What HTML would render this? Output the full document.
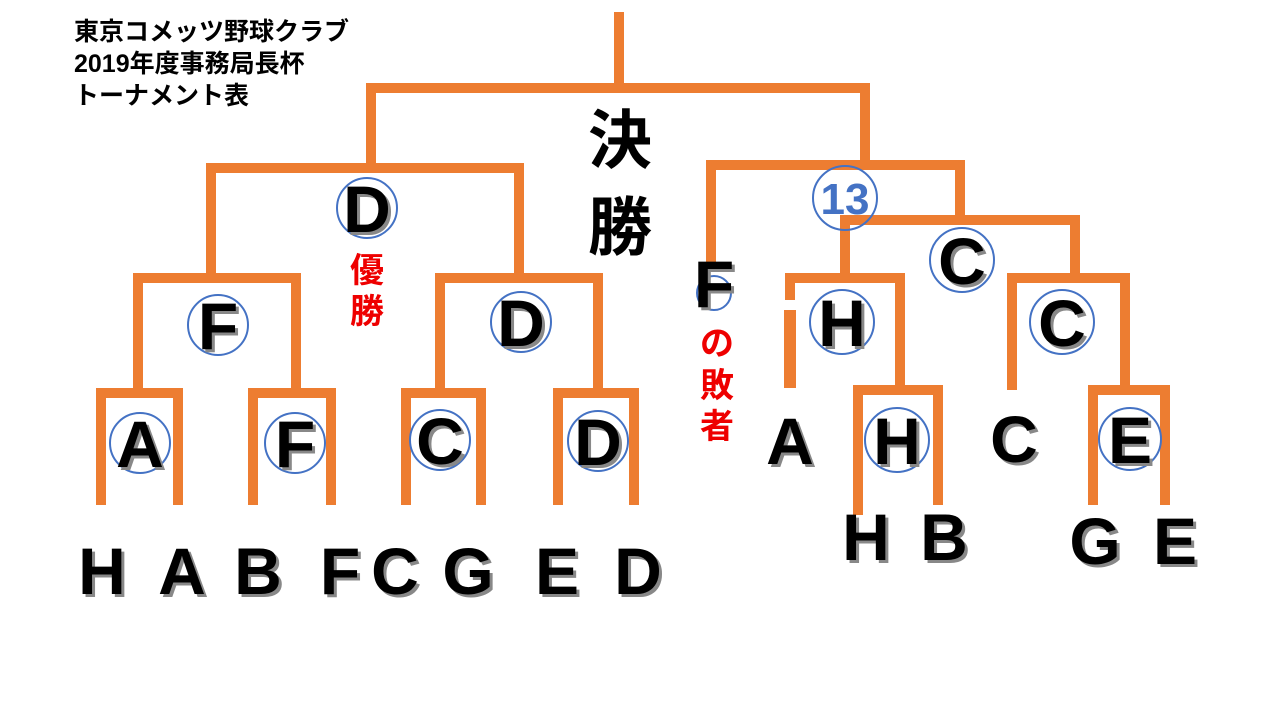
<!DOCTYPE html>
<html><head><meta charset="utf-8"><style>
html,body{margin:0;padding:0;background:#fff;width:1280px;height:720px;overflow:hidden}
svg{display:block}
.t{font-family:"Liberation Sans","Noto Sans CJK JP",sans-serif;font-weight:bold}
</style></head><body>
<svg width="1280" height="720" viewBox="0 0 1280 720" xmlns="http://www.w3.org/2000/svg">
<g fill="none" stroke="#ED7D31" stroke-width="10" stroke-linecap="butt" stroke-linejoin="miter">
<path d="M619 12V88"/>
<path d="M371 165V88H865V165"/>
<path d="M211 275V168H519V275"/>
<path d="M138 390V278H296V390"/>
<path d="M440 390V278H598V390"/>
<path d="M101 505V393H178V505"/>
<path d="M253 505V393H331V505"/>
<path d="M406 505V393H481V505"/>
<path d="M558 505V393H634V505"/>
<path d="M711 262V165H960V220"/>
<path d="M845 278V220H1075V278"/>
<path d="M790 300V278H900V390"/>
<path d="M790 310V388" stroke-width="12"/>
<path d="M858 515V390H938V505"/>
<path d="M1012 390V278H1125V390"/>
<path d="M1093 505V390H1165V505"/>
</g>
<g fill="none" stroke="#4472C4" stroke-width="2">
<circle cx="367" cy="208" r="30"/>
<circle cx="218" cy="325" r="30"/>
<circle cx="521" cy="322" r="30"/>
<circle cx="140" cy="443" r="30"/>
<circle cx="295" cy="443" r="30"/>
<circle cx="440" cy="440" r="30"/>
<circle cx="598" cy="441" r="30"/>
<circle cx="845" cy="198" r="32"/>
<circle cx="962" cy="260" r="32"/>
<circle cx="842" cy="322" r="32"/>
<circle cx="1062" cy="322" r="32"/>
<circle cx="714" cy="293" r="17"/>
<circle cx="897" cy="440" r="32"/>
<circle cx="1130" cy="439" r="31"/>
</g>
<g class="t" fill="#4472C4" text-anchor="middle" font-size="44" font-weight="normal">
<text x="845" y="214">13</text>
</g>
<g class="t" text-anchor="middle" font-size="66">
<g fill="#888" transform="translate(3,3)">
<text x="367" y="232">D</text><text x="218" y="349">F</text><text x="521" y="346">D</text>
<text x="140" y="467">A</text><text x="295" y="467">F</text><text x="440" y="464">C</text><text x="598" y="465">D</text>
<text x="962" y="284">C</text><text x="842" y="346">H</text><text x="1062" y="346">C</text><text x="714" y="307">F</text>
<text x="897" y="464">H</text><text x="1130" y="463">E</text>
<text x="790" y="464">A</text><text x="1014" y="462">C</text>
<text x="866" y="560">H</text><text x="944" y="560">B</text><text x="1095" y="564">G</text><text x="1175" y="564">E</text>
<text x="102" y="594">H</text><text x="182" y="594">A</text><text x="258" y="594">B</text><text x="340" y="594">F</text>
<text x="395" y="594">C</text><text x="468" y="594">G</text><text x="557" y="594">E</text><text x="638" y="594">D</text>
</g>
<g fill="#000">
<text x="367" y="232">D</text><text x="218" y="349">F</text><text x="521" y="346">D</text>
<text x="140" y="467">A</text><text x="295" y="467">F</text><text x="440" y="464">C</text><text x="598" y="465">D</text>
<text x="962" y="284">C</text><text x="842" y="346">H</text><text x="1062" y="346">C</text><text x="714" y="307">F</text>
<text x="897" y="464">H</text><text x="1130" y="463">E</text>
<text x="790" y="464">A</text><text x="1014" y="462">C</text>
<text x="866" y="560">H</text><text x="944" y="560">B</text><text x="1095" y="564">G</text><text x="1175" y="564">E</text>
<text x="102" y="594">H</text><text x="182" y="594">A</text><text x="258" y="594">B</text><text x="340" y="594">F</text>
<text x="395" y="594">C</text><text x="468" y="594">G</text><text x="557" y="594">E</text><text x="638" y="594">D</text>
</g>
</g>
<g class="t" fill="#000" font-size="25">
<text x="74" y="40">東京コメッツ野球クラブ</text>
<text x="74" y="72">2019年度事務局長杯</text>
<text x="74" y="104">トーナメント表</text>
</g>
<g class="t" fill="#000" font-size="64" text-anchor="middle">
<text x="620" y="163">決</text>
<text x="620" y="250">勝</text>
</g>
<g class="t" fill="#E00" font-size="34" text-anchor="middle">
<text x="367" y="282">優</text>
<text x="367" y="323">勝</text>
<text x="717" y="355">の</text>
<text x="717" y="397">敗</text>
<text x="717" y="438">者</text>
</g>
</svg>
</body></html>
